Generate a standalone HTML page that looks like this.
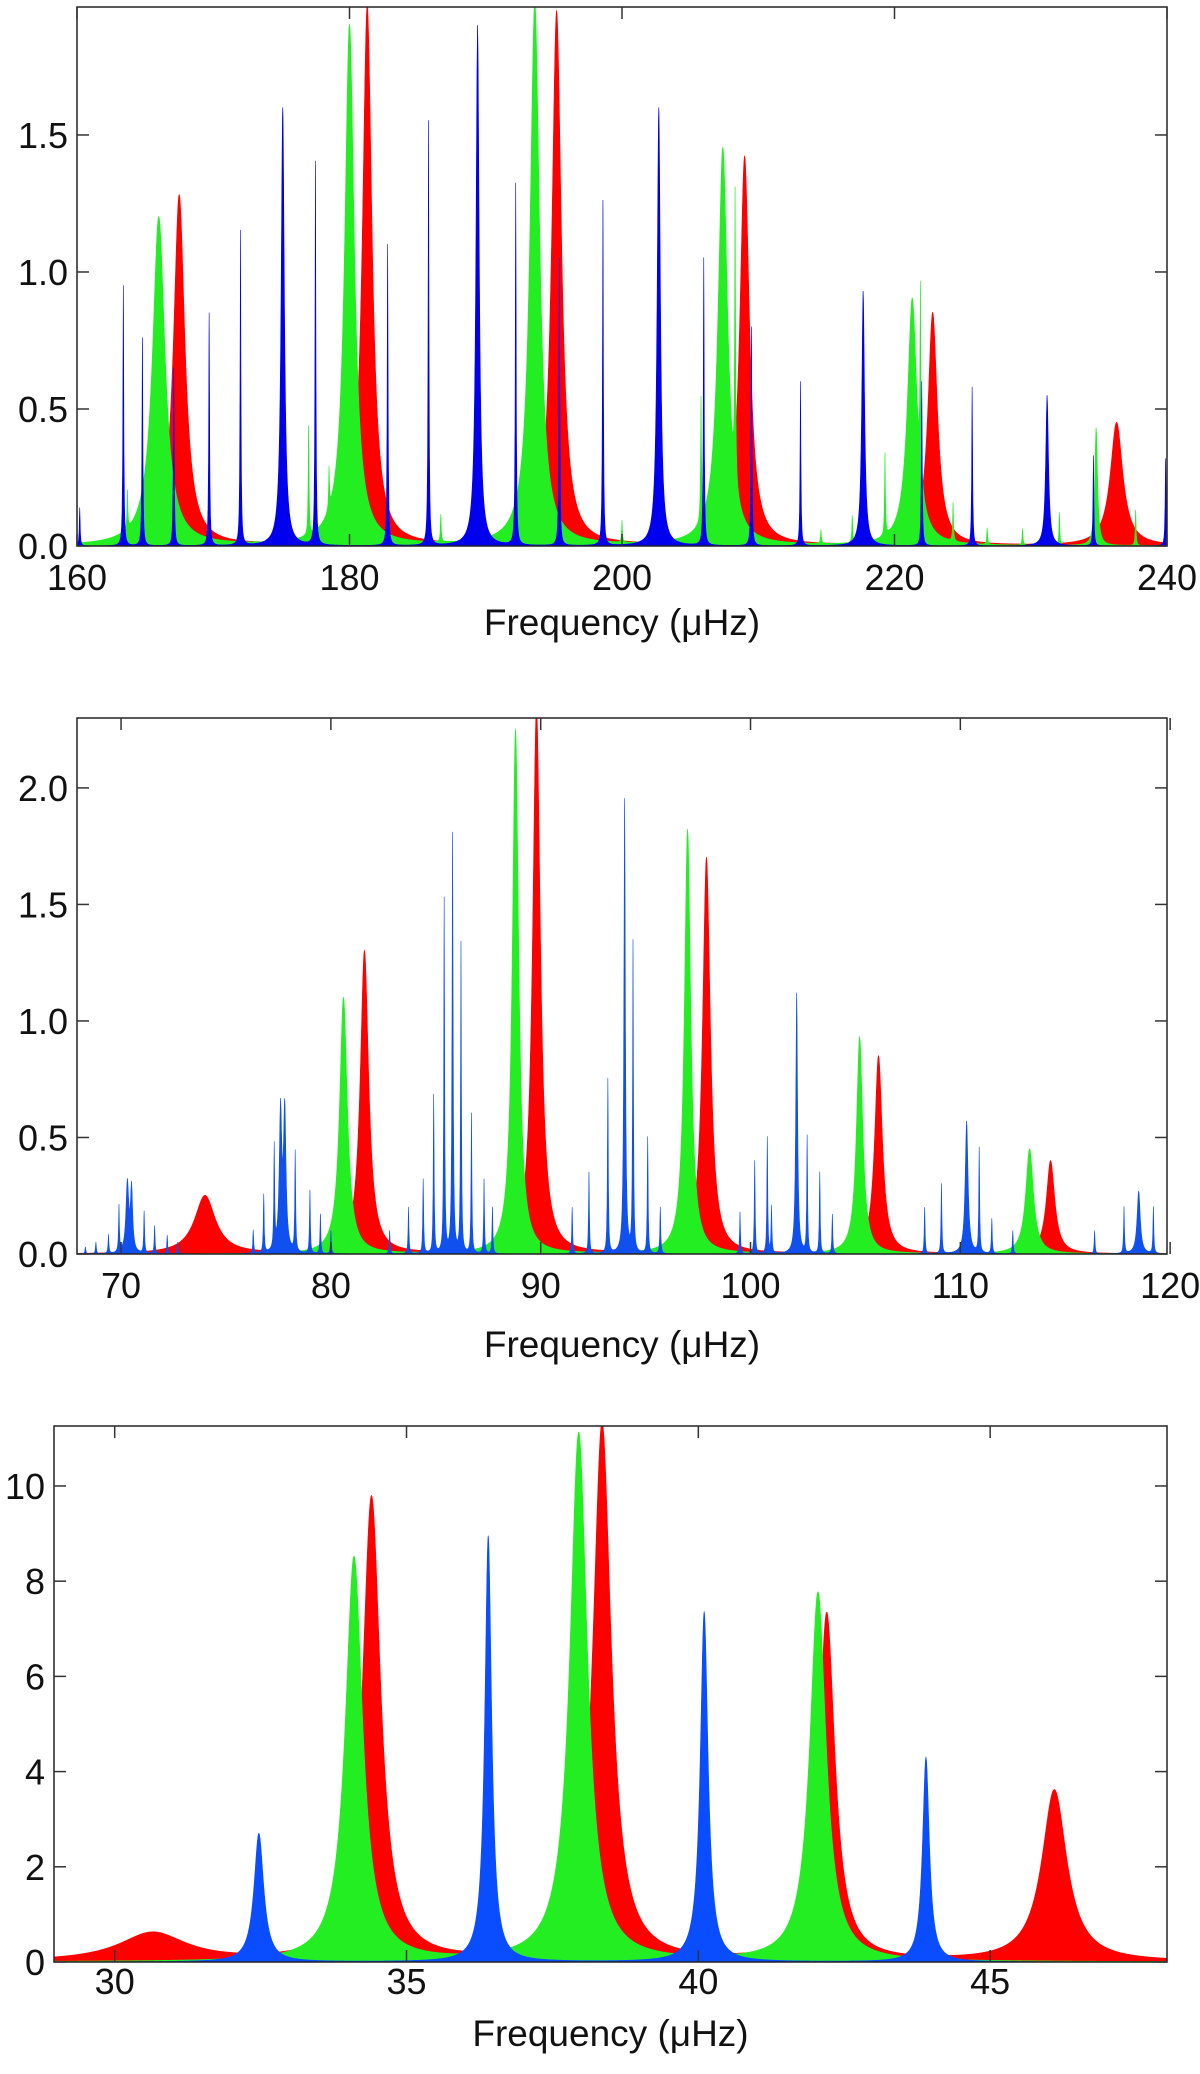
<!DOCTYPE html>
<html><head><meta charset="utf-8"><style>
html,body{margin:0;padding:0;background:#fff;}
svg{display:block;font-family:"Liberation Sans","DejaVu Sans",sans-serif;}
</style></head><body>
<svg id="chart" width="1200" height="2074" viewBox="0 0 1200 2074" xmlns="http://www.w3.org/2000/svg"></svg>
<script>
// ---------- Panel 1 data ----------
const p1Ticks = [160, 180, 200, 220, 240];
const p1YTicks = [0.0, 0.5, 1.0, 1.5];
const p1RedFreq = [167.5, 181.3, 195.2, 209.0, 222.8, 236.3];
const p1RedAmp = [1.28, 1.97, 1.95, 1.42, 0.85, 0.45];
const p1RedWid = [0.5, 0.42, 0.42, 0.42, 0.42, 0.55];
const p1GreenFreq = [166.0, 180.0, 193.6, 207.4, 221.3, 234.8, 163.7, 177.0, 178.5, 186.7, 200.0, 205.8, 208.3, 214.6, 216.9, 219.3, 221.9, 224.3, 226.8, 229.4, 232.1, 237.7];
const p1GreenAmp = [1.2, 1.9, 1.98, 1.45, 0.9, 0.43, 0.14, 0.4, 0.15, 0.1, 0.08, 0.45, 1.05, 0.05, 0.1, 0.3, 0.67, 0.14, 0.06, 0.06, 0.12, 0.13];
const p1GreenWid = [0.55, 0.42, 0.42, 0.42, 0.42, 0.12, 0.02, 0.02, 0.02, 0.02, 0.02, 0.02, 0.02, 0.02, 0.02, 0.02, 0.02, 0.02, 0.02, 0.02, 0.02, 0.02];
const p1BlueFreq = [160.2, 163.4, 164.8, 167.1, 169.7, 172.0, 175.1, 177.5, 182.8, 185.8, 189.4, 192.2, 195.4, 198.6, 202.7, 206.0, 209.5, 213.1, 217.7, 222.0, 225.7, 231.2, 234.6, 239.9];
const p1BlueAmp = [0.14, 0.95, 0.76, 0.65, 0.85, 1.15, 1.6, 1.4, 1.1, 1.55, 1.9, 1.32, 1.05, 1.26, 1.6, 1.05, 0.8, 0.6, 0.93, 0.6, 0.58, 0.55, 0.33, 0.32];
const p1BlueWid = [0.03, 0.03, 0.03, 0.03, 0.03, 0.03, 0.14, 0.03, 0.03, 0.03, 0.14, 0.03, 0.03, 0.03, 0.14, 0.03, 0.03, 0.03, 0.12, 0.03, 0.03, 0.12, 0.03, 0.04];

// ---------- Panel 2 data ----------
const p2Ticks = [70, 80, 90, 100, 110, 120];
const p2YTicks = [0.0, 0.5, 1.0, 1.5, 2.0];
const p2RedFreq = [74.0, 81.6, 89.8, 97.9, 106.1, 114.3];
const p2RedAmp = [0.25, 1.3, 2.35, 1.7, 0.85, 0.4];
const p2RedWid = [0.6, 0.24, 0.22, 0.22, 0.22, 0.24];
const p2GreenFreq = [80.6, 88.8, 97.0, 105.2, 113.3];
const p2GreenAmp = [1.1, 2.25, 1.82, 0.93, 0.45];
const p2GreenWid = [0.22, 0.18, 0.18, 0.18, 0.22];
const p2BlueFreq = [68.3, 68.8, 69.4, 69.9, 70.3, 70.5, 71.1, 71.6, 72.2, 72.7, 76.3, 76.8, 77.3, 77.6, 77.8, 78.3, 79.0, 79.5, 80.0, 82.8, 83.7, 84.4, 84.9, 85.4, 85.8, 86.2, 86.7, 87.3, 87.7, 91.5, 92.3, 93.2, 94.0, 94.4, 95.1, 95.7, 99.5, 100.2, 100.8, 101.0, 102.2, 102.7, 103.3, 103.9, 108.3, 109.1, 110.3, 110.9, 111.5, 112.5, 116.4, 117.8, 118.5, 119.2];
const p2BlueAmp = [0.03, 0.05, 0.08, 0.2, 0.3, 0.27, 0.18, 0.12, 0.08, 0.05, 0.1, 0.25, 0.44, 0.6, 0.6, 0.43, 0.27, 0.17, 0.1, 0.1, 0.2, 0.32, 0.68, 1.52, 1.8, 1.33, 0.6, 0.32, 0.2, 0.2, 0.35, 0.75, 1.95, 1.33, 0.5, 0.2, 0.18, 0.4, 0.5, 0.2, 1.12, 0.5, 0.35, 0.17, 0.2, 0.3, 0.57, 0.45, 0.15, 0.1, 0.1, 0.2, 0.27, 0.2];
const p2BlueWid = [0.02, 0.02, 0.02, 0.02, 0.08, 0.06, 0.02, 0.02, 0.02, 0.02, 0.02, 0.02, 0.02, 0.07, 0.07, 0.02, 0.02, 0.02, 0.02, 0.02, 0.02, 0.02, 0.02, 0.02, 0.03, 0.02, 0.02, 0.02, 0.02, 0.02, 0.02, 0.02, 0.04, 0.02, 0.02, 0.02, 0.02, 0.02, 0.02, 0.02, 0.05, 0.02, 0.02, 0.02, 0.02, 0.02, 0.08, 0.02, 0.02, 0.02, 0.02, 0.02, 0.09, 0.02];

// ---------- Panel 3 data ----------
const p3Ticks = [30, 35, 40, 45];
const p3YTicks = [0, 2, 4, 6, 8, 10];
const p3RedFreq = [30.65, 34.4, 38.35, 42.2, 46.1];
const p3RedAmp = [0.6, 9.75, 11.3, 7.3, 3.6];
const p3RedWid = [0.7, 0.19, 0.19, 0.17, 0.26];
const p3GreenFreq = [34.1, 37.95, 42.05];
const p3GreenAmp = [8.5, 11.1, 7.75];
const p3GreenWid = [0.18, 0.18, 0.17];
const p3BlueFreq = [32.47, 36.4, 40.1, 43.9];
const p3BlueAmp = [2.7, 8.95, 7.35, 4.3];
const p3BlueWid = [0.1, 0.07, 0.08, 0.07];

const NS = "http://www.w3.org/2000/svg";
const svg = document.getElementById('chart');
function mk(tag, attrs, parent) {
  const e = document.createElementNS(NS, tag);
  for (const k in attrs) e.setAttribute(k, attrs[k]);
  (parent || svg).appendChild(e);
  return e;
}

function drawPanel(cfg) {
  const g = mk('g', {});
  
  
  const {x0, x1, y0, y1, fmin, fmax, ymax} = cfg;
  const sx = f => x0 + (f - fmin) / (fmax - fmin) * (x1 - x0);
  const sy = v => y1 - Math.min(v, ymax * 1.02) / ymax * (y1 - y0);
  const clip = mk('clipPath', {id: cfg.name + '-clip'}, g);
  mk('rect', {x: x0, y: y0, width: x1 - x0, height: y1 - y0}, clip);
  const plot = mk('g', {'clip-path': 'url(#' + cfg.name + '-clip)'}, g);

  cfg.series.forEach(s => {
    const pts = [];
    for (let px = x0; px <= x1; px += 0.5) pts.push(fmin + (px - x0) / (x1 - x0) * (fmax - fmin));
    const dpx = (fmax - fmin) / (x1 - x0);
    s.freq.forEach(f => { pts.push(f); pts.push(f - 0.6 * dpx); pts.push(f + 0.6 * dpx); });
    pts.sort((a, b) => a - b);
    const val = f => {
      let v = 0;
      for (let i = 0; i < s.freq.length; i++) {
        const w = Math.max(s.wid[i], 0.5 * dpx);
        const d = (f - s.freq[i]) / w;
        v += s.amp[i] / (1 + d * d);
      }
      return v;
    };
    let d = 'M' + x0 + ',' + y1;
    pts.forEach(f => {
      if (f < fmin || f > fmax) return;
      d += 'L' + sx(f).toFixed(2) + ',' + sy(val(f)).toFixed(2);
    });
    d += 'L' + x1 + ',' + y1 + 'Z';
    const p = mk('path', {d: d, fill: s.color, stroke: s.color, 'stroke-width': 0.6}, plot);
    
    
  });

  const frame = mk('rect', {x: x0, y: y0, width: x1 - x0, height: y1 - y0, fill: 'none', stroke: '#222', 'stroke-width': 1.5}, g);
  
  

  cfg.xticks.forEach(t => {
    const x = sx(t);
    mk('line', {x1: x, y1: y1, x2: x, y2: y1 - 12, stroke: '#333', 'stroke-width': 1.5}, g);
    mk('line', {x1: x, y1: y0, x2: x, y2: y0 + 12, stroke: '#333', 'stroke-width': 1.5}, g);
    const tx = mk('text', {x: x, y: y1 + cfg.tickOff, 'font-size': 36, 'text-anchor': 'middle', fill: '#111'}, g);
    tx.textContent = String(t);
    
    
  });
  cfg.yticks.forEach(t => {
    const y = sy(t);
    mk('line', {x1: x0, y1: y, x2: x0 + 12, y2: y, stroke: '#333', 'stroke-width': 1.5}, g);
    mk('line', {x1: x1, y1: y, x2: x1 - 12, y2: y, stroke: '#333', 'stroke-width': 1.5}, g);
    const ty = mk('text', {x: x0 - 9, y: y + 13, 'font-size': 36, 'text-anchor': 'end', fill: '#111'}, g);
    ty.textContent = cfg.yfmt(t);
    
    
  });
  const title = mk('text', {x: (x0 + x1) / 2, y: cfg.titleY, 'font-size': 37, 'text-anchor': 'middle', fill: '#111'}, g);
  title.textContent = 'Frequency (μHz)';
  
  
}

drawPanel({name: 'panel-top', x0: 77, x1: 1167, y0: 7, y1: 546, fmin: 160, fmax: 240, ymax: 1.967,
  xticks: p1Ticks, yticks: p1YTicks, yfmt: t => t.toFixed(1), titleY: 635, tickOff: 44,
  series: [
    {label: 'red-modes', color: '#ff0000', freq: p1RedFreq, amp: p1RedAmp, wid: p1RedWid},
    {label: 'green-modes', color: '#22ee22', freq: p1GreenFreq, amp: p1GreenAmp, wid: p1GreenWid},
    {label: 'blue-modes', color: '#0000ee', freq: p1BlueFreq, amp: p1BlueAmp, wid: p1BlueWid}
  ]});
drawPanel({name: 'panel-middle', x0: 77, x1: 1167, y0: 718, y1: 1254, fmin: 67.9, fmax: 119.85, ymax: 2.30,
  xticks: p2Ticks, yticks: p2YTicks, yfmt: t => t.toFixed(1), titleY: 1357, tickOff: 44,
  series: [
    {label: 'red-modes', color: '#ff0000', freq: p2RedFreq, amp: p2RedAmp, wid: p2RedWid},
    {label: 'green-modes', color: '#22ee22', freq: p2GreenFreq, amp: p2GreenAmp, wid: p2GreenWid},
    {label: 'blue-modes', color: '#1050ee', freq: p2BlueFreq, amp: p2BlueAmp, wid: p2BlueWid}
  ]});
drawPanel({name: 'panel-bottom', x0: 54, x1: 1167, y0: 1426, y1: 1962, fmin: 28.96, fmax: 48.03, ymax: 11.26,
  xticks: p3Ticks, yticks: p3YTicks, yfmt: t => String(t), titleY: 2046, tickOff: 32,
  series: [
    {label: 'red-modes', color: '#ff0000', freq: p3RedFreq, amp: p3RedAmp, wid: p3RedWid},
    {label: 'green-modes', color: '#22ee22', freq: p3GreenFreq, amp: p3GreenAmp, wid: p3GreenWid},
    {label: 'blue-modes', color: '#0a4cff', freq: p3BlueFreq, amp: p3BlueAmp, wid: p3BlueWid}
  ]});
</script>
</body></html>
